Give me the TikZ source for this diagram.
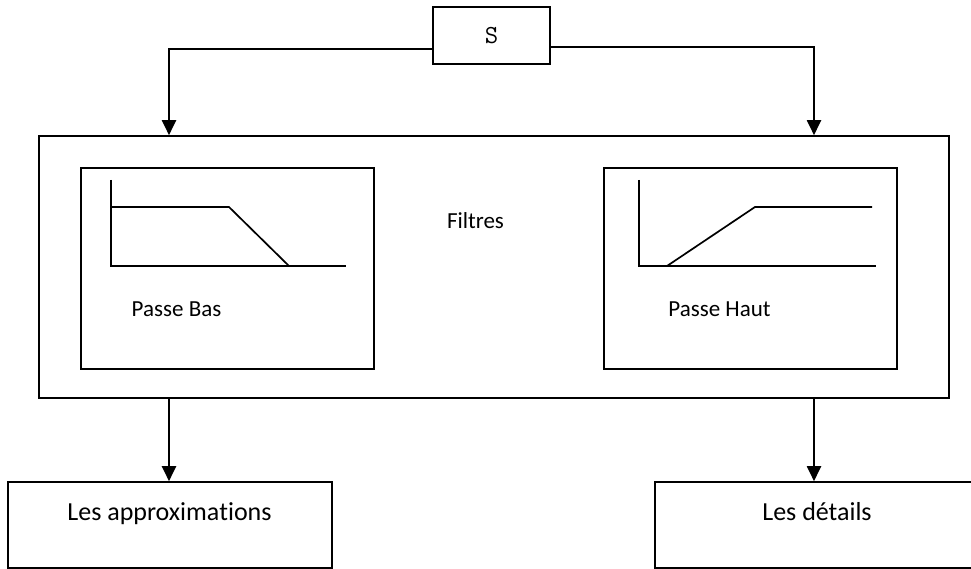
\documentclass[tikz,border=0pt]{standalone}
\usepackage{fontspec}
\setmainfont{Carlito}[Ligatures={TeX,NoCommon}]
\usetikzlibrary{arrows.meta}

\tikzset{
  box/.style={draw=black, line width=1.6pt, minimum width=#1, inner sep=0pt},
  lbl/.style={inner sep=0pt, anchor=base, font=\fontsize{23}{28}\selectfont},
  biglbl/.style={inner sep=0pt, anchor=base, font=\fontsize{26}{31}\selectfont},
  curve/.style={line width=1.7pt},
  arr/.style={draw=black, line width=2pt, -{Triangle[width=14pt,length=15pt]}}
}

\begin{document}
\begin{tikzpicture}[x=1pt, y=-1pt]
  \clip (0,0) rectangle (971,569);

  % source block
  \node[box=117pt, minimum height=57pt, font=\ttfamily\fontsize{26}{30}\selectfont]
    (src) at (491.5,35.5) {S};

  % filter bank
  \node[box=910pt, minimum height=262pt] (filt) at (494,267) {};
  \node[lbl] (filtlbl) at (475.5,229) {Filtres};

  % low-pass block
  \node[box=293pt, minimum height=201pt] (lp) at (227.5,268.5) {};
  \node[lbl] (lplbl) at (176.5,316) {Passe Bas};
  \draw[curve] (111,180) -- (111,266) -- (346,266);
  \draw[curve] (111,207) -- (229,207) -- (289,266);

  % high-pass block
  \node[box=293pt, minimum height=201pt] (hp) at (750.5,268.5) {};
  \node[lbl] (hplbl) at (719.5,316) {Passe Haut};
  \draw[curve] (639,180) -- (639,266) -- (876,266);
  \draw[curve] (667,266) -- (755,207) -- (872,207);

  % outputs (the kern keeps "t" and "i" as separate glyphs)
  \node[box=324pt, minimum height=86pt] (ap) at (170,525) {};
  \node[biglbl] (aplbl) at (169.5,520) {Les approxima\kern0pt tions};
  \node[box=324pt, minimum height=86pt] (det) at (817,525) {};
  \node[biglbl] (detlbl) at (817,520) {Les détails};

  % connector columns
  \coordinate (colL) at (169,0);
  \coordinate (colR) at (814,0);

  \draw[arr] ([yshift=-13.5pt]src.west) -| (colL |- filt.north);
  \draw[arr] ([yshift=-11.5pt]src.east) -| (colR |- filt.north);
  \draw[arr] (colL |- filt.south) -- (colL |- ap.north);
  \draw[arr] (colR |- filt.south) -- (colR |- det.north);
\end{tikzpicture}
\end{document}
